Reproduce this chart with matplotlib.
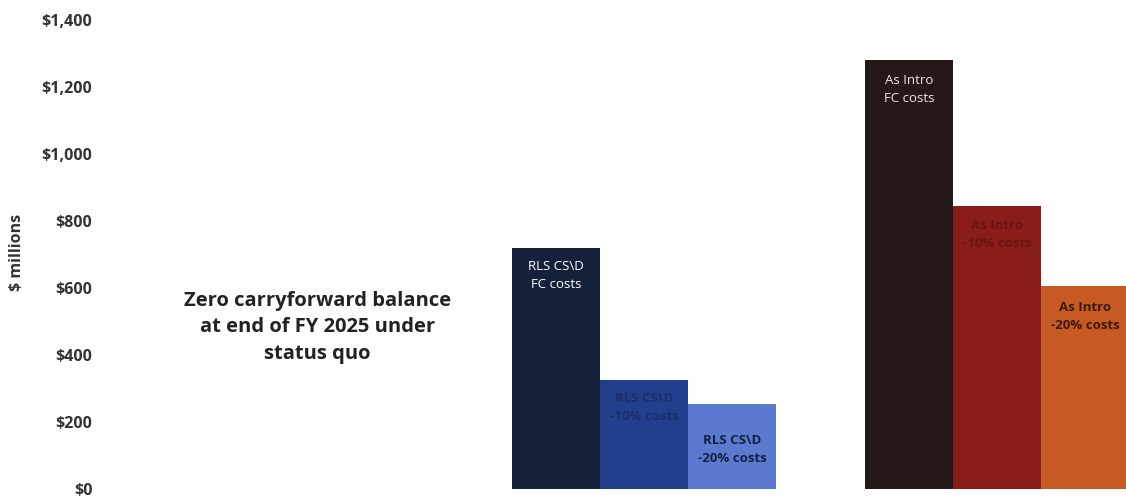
import matplotlib.pyplot as plt
import numpy as np

# Carryforward balance by scenario, $ millions
groups = ['Status quo', 'RLS CS\\D', 'As Intro']
scenarios = ['FC costs', '-10% costs', '-20% costs']
rls_values = [720, 325, 255]
intro_values = [1280, 845, 605]

rls_colors = ['#15203a', '#223f8e', '#5b79cf']
intro_colors = ['#241818', '#891d19', '#c75a22']
rls_text = ['white', '#1a2f6a', '#14213d']
intro_text = ['#f2e8e0', '#6a1512', '#3a1a0a']
# how far below the bar top each label starts, in data units
rls_drop = [35, 35, 90]
intro_drop = [40, 40, 45]

yticks = np.arange(0, 1401, 200)

plt.rcParams['font.family'] = ['Open Sans', 'DejaVu Sans']

fig = plt.figure(figsize=(11.26, 5.0), dpi=100)
ax = fig.add_axes([130 / 1126, 11 / 500, (1126 - 130) / 1126, 469 / 500])

width = 0.25
offsets = np.array([-1, 0, 1]) * width


def draw_group(xc, values, colors, txt_colors, drops, name):
    bars = ax.bar(xc + offsets, values, width=width, color=colors, linewidth=0)
    for bar, val, tc, drop, scen in zip(bars, values, txt_colors, drops, scenarios):
        ax.text(bar.get_x() + bar.get_width() / 2, val - drop,
                f'{name}\n{scen}', ha='center', va='top', fontsize=9.5,
                color=tc, linespacing=1.5,
                fontweight='normal' if scen == 'FC costs' else 'bold')


draw_group(1, rls_values, rls_colors, rls_text, rls_drop, groups[1])
draw_group(2, intro_values, intro_colors, intro_text, intro_drop, groups[2])

ax.text(0.075, 592, 'Zero carryforward balance\nat end of FY 2025 under\nstatus quo',
        ha='center', va='top', fontsize=14.5, fontweight='bold', color='#222222',
        linespacing=1.45)

ax.set_xlim(-0.456, 2.365)
ax.set_ylim(0, 1400)
ax.set_yticks(yticks)
ax.set_yticklabels([f'${v:,}' for v in yticks], fontsize=11.5,
                   fontweight='bold', color='#333333')
ax.set_xticks([])
ax.tick_params(axis='y', length=0, pad=27)
for side in ax.spines.values():
    side.set_visible(False)

fig.text(17 / 1126, 1 - 252 / 500, '$ millions', rotation=90, ha='center',
         va='center', fontsize=11.5, fontweight='bold', color='#333333')

fig.savefig('out.png', dpi=100, facecolor='white')
